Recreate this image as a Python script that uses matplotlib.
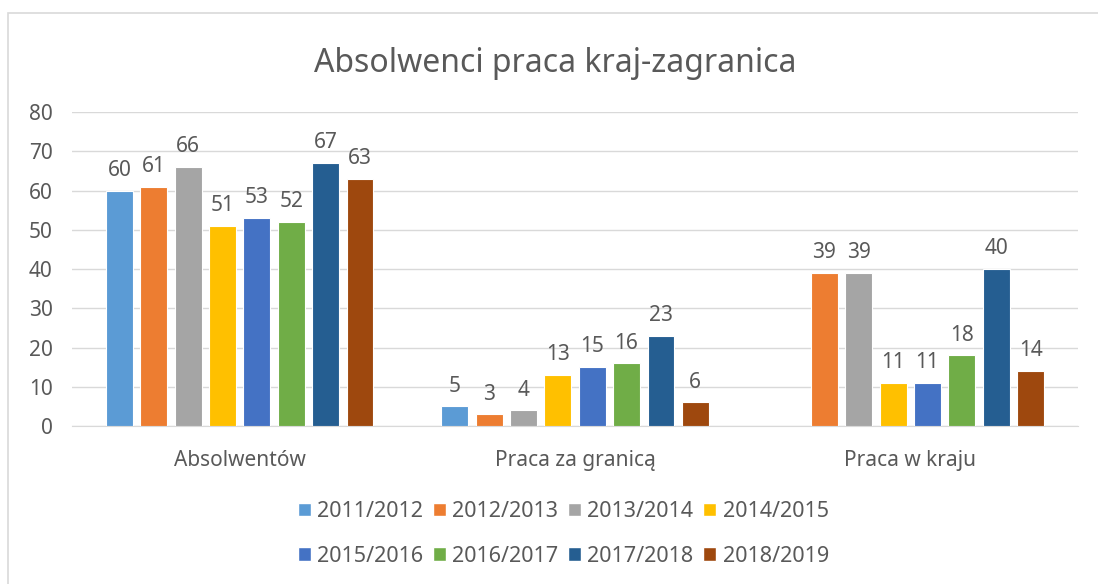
import matplotlib.pyplot as plt
import numpy as np
from matplotlib.patches import Patch

categories = ['Absolwentów', 'Praca za granicą', 'Praca w kraju']
years = ['2011/2012', '2012/2013', '2013/2014', '2014/2015',
         '2015/2016', '2016/2017', '2017/2018', '2018/2019']
values = {
    '2011/2012': [60, 5, None],
    '2012/2013': [61, 3, 39],
    '2013/2014': [66, 4, 39],
    '2014/2015': [51, 13, 11],
    '2015/2016': [53, 15, 11],
    '2016/2017': [52, 16, 18],
    '2017/2018': [67, 23, 40],
    '2018/2019': [63, 6, 14],
}
colors = ['#5B9BD5', '#ED7D31', '#A5A5A5', '#FFC000',
          '#4472C4', '#70AD47', '#255E91', '#9E480E']

plt.rcParams['font.family'] = ['Noto Sans', 'DejaVu Sans']
txt = '#595959'

fig = plt.figure(figsize=(10.98, 5.84), dpi=100)
ax = fig.add_axes([0.0656, 0.2705, 0.9162, 0.5377])

x = np.arange(len(categories))
slot = 0.1025
width = 0.08
for i, yr in enumerate(years):
    offs = (i - 3.5) * slot
    for j, v in enumerate(values[yr]):
        if v is None:
            continue
        ax.bar(x[j] + offs, v, width, color=colors[i], edgecolor='white',
               linewidth=0.8, zorder=3)
        ax.annotate(str(v), (x[j] + offs, v), xytext=(0, 7),
                    textcoords='offset points', ha='center', va='bottom',
                    fontsize=15, color=txt)

ax.set_xlim(-0.5, 2.5)
ax.set_ylim(0, 80)
ax.set_yticks(range(0, 81, 10))
ax.set_xticks(x)
ax.set_xticklabels(categories)
ax.grid(axis='y', color='#D9D9D9', linewidth=1, zorder=0)
for s in ['top', 'right', 'left']:
    ax.spines[s].set_visible(False)
ax.spines['bottom'].set_color('#D9D9D9')
ax.tick_params(axis='both', length=0, colors=txt, labelsize=15)
ax.tick_params(axis='x', pad=17)
ax.tick_params(axis='y', pad=14)

fig.text(0.506, 0.892, 'Absolwenci praca kraj-zagranica', ha='center',
         va='center', fontsize=23, color=txt)

handles = [Patch(facecolor=c, edgecolor='white') for c in colors]
order = [0, 4, 1, 5, 2, 6, 3, 7]
fig.legend([handles[k] for k in order], [years[k] for k in order],
           ncol=4, loc='center', bbox_to_anchor=(0.513, 0.086),
           frameon=False, fontsize=15.5, labelcolor=txt,
           handlelength=0.6, handleheight=0.6, handletextpad=0.3,
           columnspacing=0.45, labelspacing=1.1)

# chart border
fig.patches.append(plt.Rectangle((0.0075, -0.1), 1.2, 1.078,
                                 transform=fig.transFigure, fill=False,
                                 edgecolor='#D9D9D9', linewidth=1.2))

fig.savefig('out.png', dpi=100)
